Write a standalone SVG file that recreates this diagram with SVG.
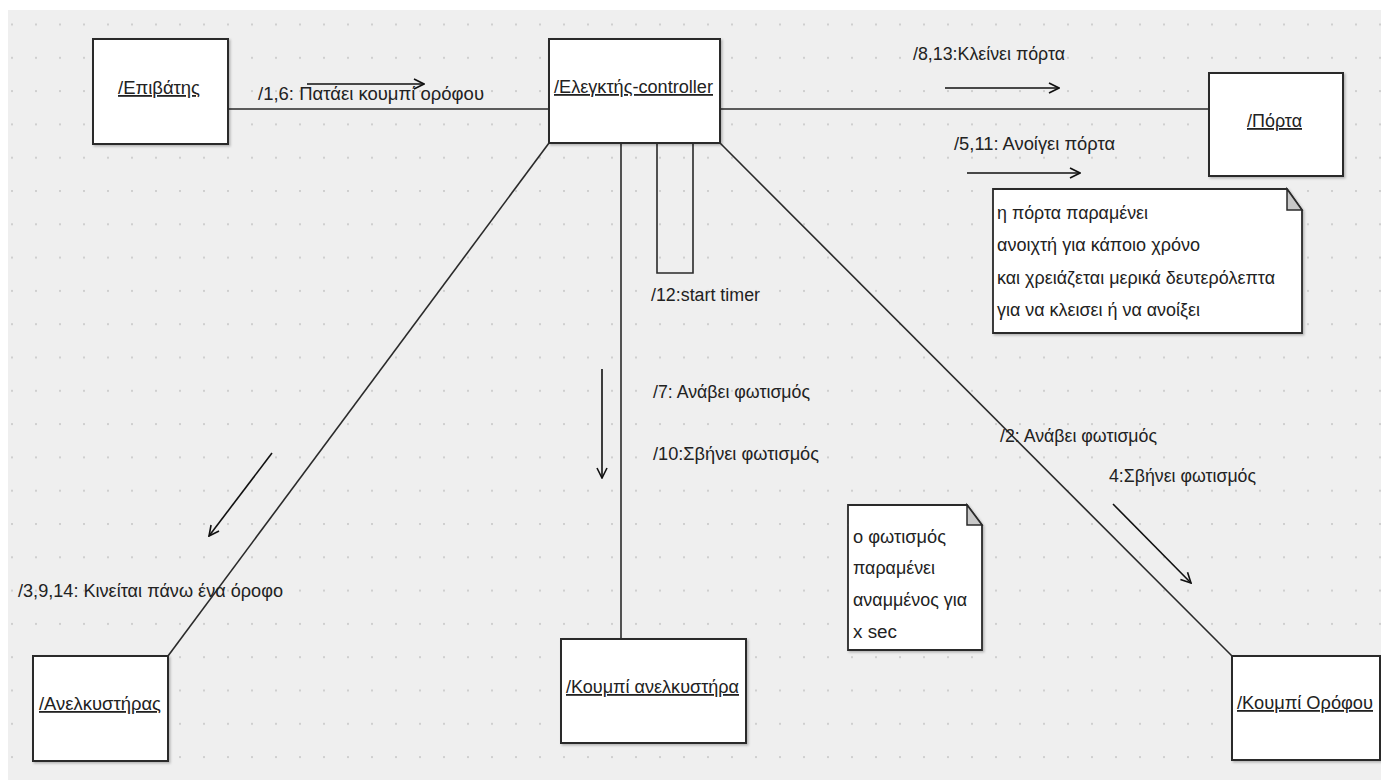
<svg xmlns="http://www.w3.org/2000/svg" width="1381" height="780" viewBox="0 0 1381 780">
  <style>
    .t { font-family: "Liberation Sans Narrow", "Liberation Sans", Arial, sans-serif; font-size: 18px; fill: #222; }
    .u { text-decoration: underline; }
    .obj { fill: #ffffff; stroke: #2a2a2a; stroke-width: 2; }
    .link { stroke: #2a2a2a; stroke-width: 1.6; fill: none; }
    .msg { stroke: #111; stroke-width: 1.6; fill: none; marker-end: url(#open); }
    .note { fill: #ffffff; stroke: #2a2a2a; stroke-width: 1.8; }
    .fold { fill: #c8c8c8; stroke: #2a2a2a; stroke-width: 1.5; }
  </style>
  <defs>
    <pattern id="grid" x="11" y="23.5" width="24" height="33.3" patternUnits="userSpaceOnUse">
      <rect x="0" y="0" width="2" height="2" fill="#cfcfcf"/>
    </pattern>
    <marker id="open" viewBox="0 0 12 12" refX="11" refY="6" markerWidth="12" markerHeight="12" markerUnits="userSpaceOnUse" orient="auto">
      <path d="M1,1 L11,6 L1,11" fill="none" stroke="#111" stroke-width="1.6"/>
    </marker>
    <filter id="sh" x="-5%" y="-5%" width="115%" height="115%">
      <feDropShadow dx="1.5" dy="1.5" stdDeviation="1" flood-color="#000" flood-opacity="0.25"/>
    </filter>
  </defs>

  <!-- canvas -->
  <rect x="0" y="0" width="1381" height="780" fill="#ffffff"/>
  <rect x="8" y="10" width="1373" height="770" fill="#efefef"/>
  <rect x="8" y="10" width="1373" height="770" fill="url(#grid)"/>

  <!-- connectors -->
  <g id="connectors">
    <line class="link" x1="228" y1="109" x2="549" y2="109"/>
    <line class="link" x1="720" y1="109" x2="1209" y2="109"/>
    <line class="link" x1="549" y1="143" x2="168" y2="656"/>
    <line class="link" x1="720" y1="143" x2="1232" y2="656"/>
    <line class="link" x1="621" y1="143" x2="621" y2="639"/>
    <polyline class="link" points="657,143 657,273 693,273 693,143"/>

    <!-- message arrows -->
    <line class="msg" x1="307" y1="84" x2="424" y2="84"/>
    <line class="msg" x1="945" y1="88" x2="1059" y2="88"/>
    <line class="msg" x1="967" y1="173" x2="1080" y2="173"/>
    <line class="msg" x1="602" y1="369" x2="602" y2="478"/>
    <line class="msg" x1="272" y1="453" x2="209" y2="536"/>
    <line class="msg" x1="1113" y1="504" x2="1191" y2="583"/>

    <!-- message labels -->
    <text class="t" x="258" y="100" textLength="226" lengthAdjust="spacingAndGlyphs">/1,6: Πατάει κουμπί ορόφου</text>
    <text class="t" x="913" y="60" textLength="152" lengthAdjust="spacingAndGlyphs">/8,13:Κλείνει πόρτα</text>
    <text class="t" x="954" y="150" textLength="161" lengthAdjust="spacingAndGlyphs">/5,11: Ανοίγει πόρτα</text>
    <text class="t" x="651" y="301" textLength="109" lengthAdjust="spacingAndGlyphs">/12:start timer</text>
    <text class="t" x="653" y="398" textLength="157" lengthAdjust="spacingAndGlyphs">/7: Ανάβει φωτισμός</text>
    <text class="t" x="653" y="460" textLength="166" lengthAdjust="spacingAndGlyphs">/10:Σβήνει φωτισμός</text>
    <text class="t" x="1000" y="442" textLength="157" lengthAdjust="spacingAndGlyphs">/2: Ανάβει φωτισμός</text>
    <text class="t" x="1109" y="482" textLength="147" lengthAdjust="spacingAndGlyphs">4:Σβήνει φωτισμός</text>
    <text class="t" x="18" y="597" textLength="265" lengthAdjust="spacingAndGlyphs">/3,9,14: Κινείται πάνω ένα όροφο</text>
  </g>

  <!-- objects -->
  <g id="epivatis">
    <rect class="obj" x="93" y="39" width="135" height="105" filter="url(#sh)"/>
    <text class="t u" x="118" y="94" textLength="82" lengthAdjust="spacingAndGlyphs">/Επιβάτης</text>
  </g>
  <g id="controller">
    <rect class="obj" x="549" y="39" width="171" height="104" filter="url(#sh)"/>
    <text class="t u" x="554" y="93" textLength="159" lengthAdjust="spacingAndGlyphs">/Ελεγκτής-controller</text>
  </g>
  <g id="porta">
    <rect class="obj" x="1209" y="73" width="134" height="103" filter="url(#sh)"/>
    <text class="t u" x="1247" y="127" textLength="55" lengthAdjust="spacingAndGlyphs">/Πόρτα</text>
  </g>
  <g id="anelkystiras">
    <rect class="obj" x="33" y="656" width="135" height="105" filter="url(#sh)"/>
    <text class="t u" x="39" y="710" textLength="122" lengthAdjust="spacingAndGlyphs">/Ανελκυστήρας</text>
  </g>
  <g id="koumpi-anelkystira">
    <rect class="obj" x="561" y="639" width="185" height="104" filter="url(#sh)"/>
    <text class="t u" x="566" y="693" textLength="173" lengthAdjust="spacingAndGlyphs">/Κουμπί ανελκυστήρα</text>
  </g>
  <g id="koumpi-orofou">
    <rect class="obj" x="1232" y="656" width="148" height="104" filter="url(#sh)"/>
    <text class="t u" x="1237" y="709" textLength="136" lengthAdjust="spacingAndGlyphs">/Κουμπί Ορόφου</text>
  </g>

  <!-- notes -->
  <g id="note-porta">
    <path class="note" d="M993,189 L1287,189 L1302,210 L1302,333 L993,333 Z" filter="url(#sh)"/>
    <path class="fold" d="M1287,189 L1287,210 L1302,210 Z"/>
    <text class="t" x="997" y="219" textLength="151" lengthAdjust="spacingAndGlyphs">η πόρτα παραμένει</text>
    <text class="t" x="997" y="251" textLength="203" lengthAdjust="spacingAndGlyphs">ανοιχτή για κάποιο χρόνο</text>
    <text class="t" x="997" y="284" textLength="278" lengthAdjust="spacingAndGlyphs">και χρειάζεται μερικά δευτερόλεπτα</text>
    <text class="t" x="997" y="316" textLength="203" lengthAdjust="spacingAndGlyphs">για να κλεισει ή να ανοίξει</text>
  </g>
  <g id="note-fotismos">
    <path class="note" d="M848,505 L967,505 L982,525 L982,650 L848,650 Z" filter="url(#sh)"/>
    <path class="fold" d="M967,505 L967,525 L982,525 Z"/>
    <text class="t" x="853" y="543" textLength="93" lengthAdjust="spacingAndGlyphs">ο φωτισμός</text>
    <text class="t" x="853" y="574" textLength="82" lengthAdjust="spacingAndGlyphs">παραμένει</text>
    <text class="t" x="853" y="606" textLength="114" lengthAdjust="spacingAndGlyphs">αναμμένος για</text>
    <text class="t" x="853" y="638" textLength="44" lengthAdjust="spacingAndGlyphs">x sec</text>
  </g>
</svg>
